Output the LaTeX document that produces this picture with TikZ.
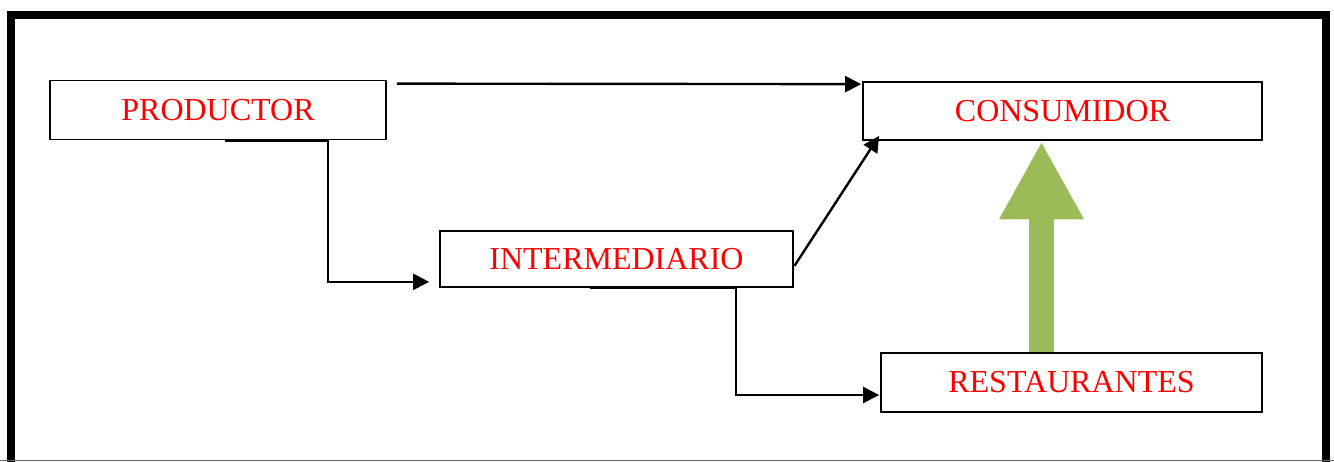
\documentclass[tikz,border=0pt]{standalone}
\usepackage{fontspec}
\setmainfont{Liberation Serif}
\usetikzlibrary{arrows.meta,calc}
\definecolor{boxred}{RGB}{255,0,0}
\definecolor{arrowgreen}{RGB}{155,187,89}
\tikzset{
  entity/.style={draw=black, line width=1.3pt, fill=white, inner sep=0pt,
    text=boxred, font=\fontsize{24pt}{26pt}\selectfont},
  conn/.style={draw=black, line width=1.8pt,
    -{Triangle[length=12pt,width=12pt]}},
  bigarrow/.style={draw=arrowgreen, line width=19pt,
    -{Triangle[length=58.5pt,width=59.25pt]}}
}
\begin{document}
\begin{tikzpicture}[x=0.75pt,y=-0.75pt]
\useasboundingbox (0,0) rectangle (1334,461);
% frame
\draw[line width=6pt] (11,500) -- (11,15) -- (1326,15) -- (1326,500);
\draw[line width=0.8pt, black!60] (0,460.5) -- (1334,460.5);
% nodes
\node[entity, minimum width=252pt, minimum height=44.25pt] (prod) at (218,110) {PRODUCTOR};
\node[entity, minimum width=264.75pt, minimum height=42pt] (inter) at (616.5,259) {INTERMEDIARIO};
\node[entity, minimum width=299.25pt, minimum height=43.5pt] (cons) at (1062.5,111) {CONSUMIDOR};
\node[entity, minimum width=285.75pt, minimum height=44.25pt] (rest) at (1071.5,382.5) {RESTAURANTES};
% connectors
\draw[conn] ($(prod.north east)+(10,4)$) -- ($(cons.north west)+(-1,3)$);
\draw[conn] ($(prod.south)+(7,0)$) -- ++(103,0) |- ($(inter.south west)+(-10,-6)$);
\draw[conn] ($(inter.east)+(0.5,7)$) -- ($(cons.south west)+(17,-5)$);
\draw[conn] ($(inter.south)+(-26.5,0)$) -- ++(146,0) |- ($(rest.west)+(-1,12.5)$);
\draw[bigarrow] ($(rest.north)+(-30,0)$) -- ($(cons.south)+(-21,0.5)$);
\end{tikzpicture}
\end{document}
